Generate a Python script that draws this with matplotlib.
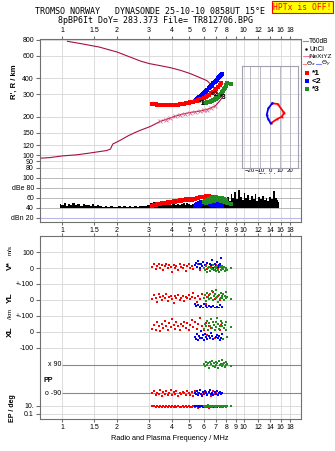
import matplotlib
matplotlib.use('Agg')
import matplotlib.pyplot as plt
from matplotlib.ticker import FixedLocator, NullLocator, NullFormatter

W, H = 335, 451
plt.rcParams['font.family'] = ['Liberation Sans', 'DejaVu Sans']
plt.rcParams['font.size'] = 5

# ---- frequency axis ----
FTICKS = [1, 1.5, 2, 3, 4, 5, 6, 7, 8, 9, 10, 12, 14, 16, 18]
FLAB = ['1', '1.5', '2', '3', '4', '5', '6', '7', '8', '9', '10', '12', '14', '16', '18']
FLAB_TOP = ['1', '1.5', '2', '3', '4', '5', '6', '7', '8', '', '10', '12', '14', '16', '18']

# ---- height profile (true height, dark red) and virtual upper trace ----
prof_f = [0.75, 0.85, 1.0, 1.2, 1.4, 1.6, 1.75, 1.84, 1.87, 1.9, 1.95, 2.08, 2.3, 2.52,
          2.69, 3.05, 3.46, 3.93, 4.46, 5.06, 5.74, 6.26, 6.95, 7.3, 7.7]
prof_h = [95, 96, 99, 101, 104, 107, 109, 112, 118, 123, 125, 131, 142, 151,
          157, 168, 184, 196, 208, 216, 222, 228, 243, 262, 290]
up_f = [1.065, 1.3, 1.6, 2.0, 2.69, 3.0, 3.5, 3.93, 4.5, 5.06, 5.6, 6.26, 6.7, 7.0, 7.2]
up_h = [777, 740, 700, 641, 545, 521, 500, 484, 460, 435, 410, 383, 350, 318, 300]
xyz_f = [3.46, 3.7, 3.93, 4.2, 4.46, 4.75, 5.06, 5.4, 5.74, 6.0, 6.26, 6.6, 6.95]
xyz_h = [184, 190, 196, 202, 208, 212, 216, 219, 222, 225, 228, 235, 243]

# ---- echo 1 (red) ----
red_f = [3.12, 3.2, 3.27, 3.33, 3.4, 3.46, 3.52, 3.6, 3.66, 3.74, 3.8, 3.88, 3.95, 4.02, 4.1,
         4.18, 4.25, 4.33, 4.42, 4.5, 4.6, 4.68, 4.78, 4.88, 4.97, 5.06, 5.16, 5.27, 5.38, 5.5,
         5.62, 5.75, 5.88, 6.0, 6.15, 6.3, 6.45, 6.6, 6.75, 6.9, 7.05, 7.2, 7.35, 7.5]
red_rh = [252, 250, 250, 249, 249, 248, 248, 247, 247, 246, 246, 246, 246, 247, 247,
          248, 248, 249, 250, 251, 252, 253, 254, 256, 257, 259, 261, 263, 265, 267,
          270, 274, 277, 280, 285, 292, 298, 305, 312, 320, 330, 342, 355, 368]
red_amp = [44, 46, 47, 48, 49, 49, 50, 50, 51, 51, 52, 51, 53, 52, 54, 53, 55, 54, 56, 55, 57, 56,
           58, 57, 56, 58, 57, 59, 58, 60, 61, 62, 63, 63, 64, 65, 64, 63, 62, 60, 58, 54, 50, 48]
red_v = [10, 25, -5, 15, 30, 5, 20, -10, 12, 28, 0, 18, 8, -20, 22, 5, 15, -8, 25, 10, 0, 18,
         -15, 12, 28, 4, 16, -6, 20, 8, 30, -12, 14, 2, 22, -5, 10, 15, 5, -10, 20, 0, 8, 12]
red_yl = [5, 30, 15, -10, 40, 20, 0, 25, 10, 35, -5, 18, 28, 8, -20, 22, 12, 32, 2, 15, 25, -8,
          18, 10, 30, 5, 20, 45, 12, -15, 25, 8, 35, 15, -25, 20, 30, 10, 50, 5, 15, 25, 0, 12]
red_xl = [20, 45, 10, 60, 35, 5, 50, 25, 70, 40, 15, 55, 30, 80, 45, 20, 60, 35, 10, 50, 40, 65,
          25, 55, 15, 45, 75, 30, 60, 20, 50, 85, 35, 10, 55, -20, 40, 25, 65, -40, 30, 50, 15, 45]
red_pp = [-90, -75, -100, -85, -95, -70, -105, -80, -92, -78, -98, -88, -72, -102, -84, -94, -76,
          -108, -86, -96, -80, -90, -100, -74, -88, -98, -82, -104, -78, -92, -86, -70, -100, -90,
          -80, -95, -85, -105, -75, -92, -88, -98, -82, -90]
red_ep = [12, 8, 6, 10, 5, 9, 7, 11, 6, 8, 5, 9, 7, 12, 6, 8, 5, 10, 7, 6, 9, 5, 8, 6, 11, 7, 5,
          9, 6, 8, 4, 7, 10, 5, 8, 6, 4, 7, 5, 9, 6, 8, 5, 7]

# ---- echo 2 (blue) ----
blue_f = [5.35, 5.42, 5.5, 5.58, 5.66, 5.74, 5.82, 5.9, 5.98, 6.06, 6.14, 6.22, 6.3, 6.4, 6.5,
          6.6, 6.7, 6.8, 6.9, 7.0, 7.1, 7.2, 7.3, 7.4, 7.5, 7.6]
blue_rh = [268, 272, 276, 280, 284, 288, 293, 298, 303, 308, 314, 320, 326, 333, 340,
           348, 356, 364, 372, 381, 390, 399, 408, 417, 426, 435]
blue_amp = [44, 46, 48, 45, 50, 47, 52, 49, 51, 48, 53, 50, 52, 49, 51, 47, 50, 48, 46, 49,
            47, 45, 48, 46, 44, 45]
blue_v = [20, 35, 10, 45, 25, 5, 30, 15, 40, 0, 22, 12, 35, 8, 28, 18, 50, 5, 25, 15, 38, 10,
          20, 30, 65, 12]
blue_yl = [-25, -40, -55, -30, -60, -45, -35, -70, -50, -28, -62, -40, -52, -35, -58, -45, -65,
           -38, -50, -55, -42, -68, -48, -30, -60, -45]
blue_xl = [-30, -45, -15, -50, -25, -40, 5, -35, -20, -48, -10, -30, -42, -22, -38, -5, -28, -45,
           10, -32, -18, -40, -25, -50, -35, -15]
blue_pp = [-85, -95, -78, -100, -88, -72, -92, -105, -82, -96, -76, -90, -100, -84, -70, -94,
           -86, -102, -80, -92, -74, -98, -88, -82, -95, -90]
blue_ep = [10, 8, 12, 9, 7, 11, 8, 10, 6, 9, 12, 8, 10, 7, 9, 11, 8, 6, 10, 9, 7, 8, 10, 9, 8, 7]

# ---- echo 3 (green) ----
green_f = [6.02, 6.1, 6.18, 6.26, 6.34, 6.42, 6.5, 6.58, 6.66, 6.74, 6.82, 6.9, 6.98, 7.06,
           7.14, 7.22, 7.3, 7.38, 7.46, 7.54, 7.62, 7.7, 7.78, 7.86, 7.94, 8.02, 8.1, 8.5]
green_rh = [256, 257, 258, 259, 260, 262, 263, 265, 267, 269, 271, 273, 276, 279,
            282, 286, 290, 295, 300, 306, 312, 320, 328, 337, 346, 356, 366, 359]
green_amp = [52, 55, 50, 57, 54, 58, 53, 60, 56, 59, 55, 61, 57, 62, 58, 60, 56, 59, 54, 57,
             60, 55, 58, 53, 56, 52, 50, 48]
green_v = [5, -10, 15, -20, 0, 10, -15, 5, -5, 20, -10, 8, -18, 2, 12, -8, -22, 6, -12, 15,
           0, -6, 10, -15, 4, -2, -10, 5]
green_yl = [10, 30, -5, 45, 20, 5, 35, 15, 55, 0, 25, 40, 10, 60, 18, -10, 30, 8, 45, 22,
            12, 38, 2, 28, 15, 50, 20, 5]
green_xl = [20, 50, 35, 70, 10, 55, 40, 80, 25, 60, 45, 15, 65, 30, 85, 50, 20, 40, 70, 35,
            55, -45, 25, 45, 10, 60, -30, 30]
green_pp = [95, 80, 110, 88, 100, 72, 105, 92, 115, 85, 98, 78, 108, 90, 102, 70, 112, 86, 96,
            82, 118, 92, 100, 76, 88, 106, 94, 85]
green_ep = [8, 12, 6, 10, 14, 7, 9, 11, 5, 8, 13, 7, 10, 6, 9, 12, 8, 11, 6, 9, 10, 7, 12, 8,
            5, 9, 10, 8]

# ---- noise amplitude (black) ----
noise_f = [0.97, 1.0, 1.03, 1.06, 1.09, 1.12, 1.15, 1.19, 1.23, 1.27, 1.31, 1.35, 1.39, 1.43,
           1.47, 1.52, 1.57,
           1.62, 1.68, 1.74, 1.8, 1.86, 1.92, 1.99, 2.06, 2.13, 2.2, 2.28, 2.36, 2.44, 2.52,
           2.61, 2.7, 2.79, 2.88, 2.97,
           3.07, 3.14, 3.21, 3.28, 3.36, 3.44, 3.52, 3.6, 3.68, 3.77, 3.86, 3.95, 4.04, 4.14,
           4.24, 4.34, 4.44, 4.55, 4.66, 4.77, 4.88, 5.0, 5.12, 5.24, 5.36, 5.49, 5.62, 5.75,
           5.89, 6.03, 6.17, 6.32, 6.47, 6.62, 6.78, 6.94, 7.1, 7.27, 7.44, 7.62, 7.8, 7.98,
           8.17, 8.36, 8.56, 8.76, 8.97, 9.18, 9.4, 9.62, 9.85, 10.08, 10.32, 10.56, 10.81,
           11.07, 11.33, 11.6, 11.87, 12.15, 12.44, 12.73, 13.03, 13.34, 13.66, 13.98, 14.31,
           14.65, 15.0, 15.35, 15.6]
noise_top = [48, 46, 50, 45, 49, 47, 51, 46, 48, 45, 49, 46, 47, 45, 48, 44, 46,
             44, 43, 44, 43, 44, 43, 43, 44, 43, 44, 43, 44, 43, 44, 43, 44, 45, 44, 46,
             50, 48, 52, 47, 51, 49, 46, 50, 48, 47, 49, 46, 48, 50, 47, 49, 46, 48, 51, 47,
             50, 48, 46, 49, 47, 50, 48, 52, 49, 51, 53, 50, 52, 49, 51, 54, 50, 52, 55, 53,
             56, 58,
             62, 55, 68, 60, 72, 58, 76, 63, 57, 70, 61, 66, 56, 64, 59, 68, 54, 62, 58, 65,
             57, 60, 55, 63, 58, 74, 60, 56, 52]

# ---- tilt inset ----
tiltx_red = [2.3, 7.7, 13.3, 14.3, 11.7, 6.7, 0.7]
tilty_red = [13.4, 12.7, 5, 4, 0, -2.6, -6.6]
tiltx_blue = [2.3, -1.7, -3.3, -1.7, 0.7]
tilty_blue = [13.4, 8.4, 1.7, -2.6, -6.6]

GRID = '#d6d6d6'
SPINE = '#707070'
CURVE = '#a8103c'
PINK = '#e06a90'
GREEN = '#228b22'
FMIN, FMAX = 0.747, 20.8

fig = plt.figure(figsize=(W / 100, H / 100), dpi=100)


def px_axes(l, t, r, b):
    return fig.add_axes([l / W, 1 - b / H, (r - l) / W, (b - t) / H])


def freq_setup(ax):
    ax.set_xscale('log')
    ax.set_xlim(FMIN, FMAX)
    ax.xaxis.set_major_locator(FixedLocator(FTICKS))
    ax.xaxis.set_minor_locator(NullLocator())
    ax.xaxis.set_minor_formatter(NullFormatter())
    ax.set_xticklabels([])
    ax.grid(True, color=GRID, lw=0.6)
    ax.set_axisbelow(True)
    ax.tick_params(axis='y', length=3, color=SPINE, pad=1, labelsize=5)
    ax.tick_params(axis='x', length=2, color=SPINE, pad=1.5, labelsize=5,
                   bottom=False, top=False)
    for s in ax.spines.values():
        s.set_color(SPINE)
        s.set_linewidth(0.8)


# ---------------- R' / R panel ----------------
ax1 = px_axes(39.5, 39, 301.5, 174)
freq_setup(ax1)
ax1.set_yscale('log')
ax1.set_ylim(71.5, 810)
rt = [80, 90, 100, 120, 150, 200, 300, 400, 600, 800]
ax1.yaxis.set_major_locator(FixedLocator(rt))
ax1.yaxis.set_minor_locator(NullLocator())
ax1.yaxis.set_minor_formatter(NullFormatter())
ax1.set_yticklabels([str(v) for v in rt])
ax1.tick_params(axis='x', top=True, labeltop=True, labelbottom=False)
ax1.set_xticklabels(FLAB_TOP)
ax1.spines['bottom'].set_visible(False)

ax1.plot(up_f, up_h, color=CURVE, lw=0.8)
ax1.plot(prof_f, prof_h, color=CURVE, lw=0.8)
ax1.plot(xyz_f, xyz_h, ls='none', marker='x', ms=2.4, mew=0.6, color=PINK)
ax1.plot(blue_f, blue_rh, 's', ms=2.2, mew=0, color='blue')
ax1.plot(red_f, red_rh, 's', ms=2.2, mew=0, color='red')
ax1.plot(green_f, green_rh, 's', ms=2.2, mew=0, color=GREEN)
ax1.text(5.9, 252, '*1', fontsize=5, fontweight='bold', ha='center', va='center')
ax1.text(6.95, 300, '<2', fontsize=5, fontweight='bold', ha='center', va='center')
ax1.text(7.75, 281, '*3', fontsize=5, fontweight='bold', ha='center', va='center')
fig.text(14 / W, 1 - 82 / H, "R', R / km", rotation=90, ha='center', va='center',
         fontsize=5.5, fontweight='bold')

# tilt inset
axi = px_axes(242, 65.7, 298, 167.7)
axi.set_facecolor('none')
axi.set_xlim(-28, 28)
axi.set_ylim(-51, 51)
axi.set_xticks([-20, -10, 0, 10, 20])
axi.set_yticks([])
axi.grid(True, axis='x', color='#b8b8c8', lw=0.7)
axi.tick_params(axis='x', length=0, pad=0.5, labelsize=4.3)
for s in axi.spines.values():
    s.set_color('#a0a0b0')
    s.set_linewidth(0.8)
axi.plot(tiltx_red, tilty_red, color='red', lw=1.3, marker='s', ms=1.3, mew=0)
axi.plot(tiltx_blue, tilty_blue, color='blue', lw=1.3, marker='s', ms=1.3, mew=0)
axi.set_xlabel('Tilt / deg', fontsize=4.3, labelpad=0)

# ---------------- amplitude panel ----------------
ax2 = px_axes(39.5, 174, 301.5, 222.3)
freq_setup(ax2)
ax2.set_ylim(11.4, 108)
ax2.set_yticks([20, 40, 60, 80, 100])
ax2.set_yticklabels(['dBn 20', '40', '60', 'dBe 80', '100'])
ax2.grid(True, axis='y', color='#b0b0b0', lw=0.6)
ax2.axhline(20, color='#b8b8ec', lw=0.8, zorder=1)
ax2.spines['top'].set_visible(False)
ax2.tick_params(axis='x', bottom=True, labelbottom=True)
ax2.set_xticklabels(FLAB)
ax2.fill_between(noise_f, 39.5, noise_top, step='mid', color='black', lw=0, zorder=2)
ax2.plot(red_f, red_amp, 's', ms=2.4, mew=0, color='red', zorder=3)
ax2.plot(blue_f, blue_amp, 's', ms=2.4, mew=0, color='blue', zorder=3)
ax2.plot(green_f, green_amp, 's', ms=2.4, mew=0, color=GREEN, zorder=3)

# ---------------- lower stacked panels ----------------
MS = 2.1


def lower(t, b, ylim, ticks, labels, log=False):
    ax = px_axes(39.5, t, 301.5, b)
    freq_setup(ax)
    if log:
        ax.set_yscale('log')
    ax.set_ylim(*ylim)
    ax.yaxis.set_major_locator(FixedLocator(ticks))
    ax.yaxis.set_minor_locator(NullLocator())
    ax.yaxis.set_minor_formatter(NullFormatter())
    ax.set_yticklabels(labels)
    ax.spines['top'].set_visible(False)
    ax.spines['bottom'].set_visible(False)
    return ax


def clouds(ax, rv, bv, gv):
    ax.plot(red_f, rv, 's', ms=MS, mew=0, color='red')
    ax.plot(blue_f, bv, 's', ms=MS, mew=0, color='blue')
    ax.plot(green_f, gv, 's', ms=MS, mew=0, color=GREEN)


axV = lower(236, 276.3, (-50, 202), [0, 100], ['0', '100'])
axV.spines['top'].set_visible(True)
axV.tick_params(axis='x', top=True)
clouds(axV, red_v, blue_v, green_v)

axY = lower(276.3, 308, (-50, 148), [0, 100], ['0', '+-100'])
clouds(axY, red_yl, blue_yl, green_yl)

axX = lower(308, 356, (-150, 150), [-100, 0, 100], ['-100', '0', '+-100'])
clouds(axX, red_xl, blue_xl, green_xl)

axP = lower(356, 400, (-132, 145), [], [])
axP.grid(False, axis='y')
axP.hlines([90, -90], 1.0, FMAX, color='#8a8a8a', lw=0.8, zorder=1)
axP.text(0.985, 90, 'x 90', ha='right', va='center', fontsize=5)
axP.text(0.985, -90, 'o -90', ha='right', va='center', fontsize=5)
clouds(axP, red_pp, blue_pp, green_pp)
fig.text(43 / W, 1 - 380 / H, 'PP', ha='left', va='center', fontsize=5, fontweight='bold')

axE = lower(400, 419, (10 ** -2.25, 10 ** 2.5), [0.1, 10], ['0.1', '10.'], log=True)
axE.spines['bottom'].set_visible(True)
axE.tick_params(axis='x', bottom=True, labelbottom=True)
axE.set_xticklabels(FLAB)
clouds(axE, red_ep, blue_ep, green_ep)

# left band labels
fig.text(10 / W, 1 - 266 / H, 'V*', rotation=90, ha='center', va='center',
         fontsize=6, fontweight='bold')
fig.text(10 / W, 1 - 250 / H, 'm/s', rotation=90, ha='center', va='center', fontsize=4.5)
fig.text(10 / W, 1 - 298 / H, 'YL', rotation=90, ha='center', va='center',
         fontsize=6, fontweight='bold')
fig.text(10 / W, 1 - 314 / H, '/km', rotation=90, ha='center', va='center', fontsize=4.5)
fig.text(10 / W, 1 - 332 / H, 'XL', rotation=90, ha='center', va='center',
         fontsize=6, fontweight='bold')
fig.text(13 / W, 1 - 408 / H, 'EP / deg', rotation=90, ha='center', va='center',
         fontsize=5, fontweight='bold')
fig.text(170 / W, 1 - 439 / H, 'Radio and Plasma Frequency / MHz', ha='center', va='center',
         fontsize=5.3)

# ---------------- legend column ----------------
axL = px_axes(302, 36, 335, 94)
axL.set_xlim(302, 335)
axL.set_ylim(94, 36)
axL.axis('off')
axL.plot([303, 308], [41, 41], color='#909090', lw=0.8)
axL.text(309, 41, 'T60dB', va='center', fontsize=4.8)
axL.plot([305.7], [49], '.', color='black', ms=1.5)
axL.text(310, 49, 'UnCl', va='center', fontsize=4.8)
axL.plot([303, 309], [56, 56], color=PINK, lw=0.6, marker='+', ms=3, mew=0.6, markevery=[1])
axL.text(309.5, 56, 'NeXtYZ', va='center', fontsize=4.6)
axL.plot([302.5, 305.5], [63.8, 63.8], color='#ff8080', lw=0.8)
axL.text(305.8, 63.8, r'$\Theta_x$', va='center', fontsize=4.6)
axL.plot([316, 320.5], [63.8, 63.8], color='#8080ff', lw=0.8)
axL.text(321, 63.8, r'$\Theta_y$', va='center', fontsize=4.6)
for yy, col, lab in [(73.3, 'red', '*1'), (81, 'blue', '<2'), (89, GREEN, '*3')]:
    axL.plot([306.7], [yy], 's', ms=2.6, mew=0, color=col)
    axL.text(311.5, yy, lab, va='center', fontsize=6, fontweight='bold')

# ---------------- header ----------------
fig.text(150 / W, 1 - 12 / H, 'TROMSO NORWAY   DYNASONDE 25-10-10 0858UT 15°E',
         ha='center', va='center', family='DejaVu Sans Mono', fontsize=6)
fig.text(156 / W, 1 - 20.5 / H, '8pBP6It DoY= 283.373 File= TR812706.BPG',
         ha='center', va='center', family='DejaVu Sans Mono', fontsize=6)
fig.text(302.5 / W, 1 - 7.3 / H, 'HPTx is OFF!', ha='center', va='center',
         family='DejaVu Sans Mono', fontsize=5.8, color='red',
         bbox=dict(facecolor='yellow', edgecolor='red', lw=0.8, pad=1.2))

fig.savefig('out.png', dpi=100)
